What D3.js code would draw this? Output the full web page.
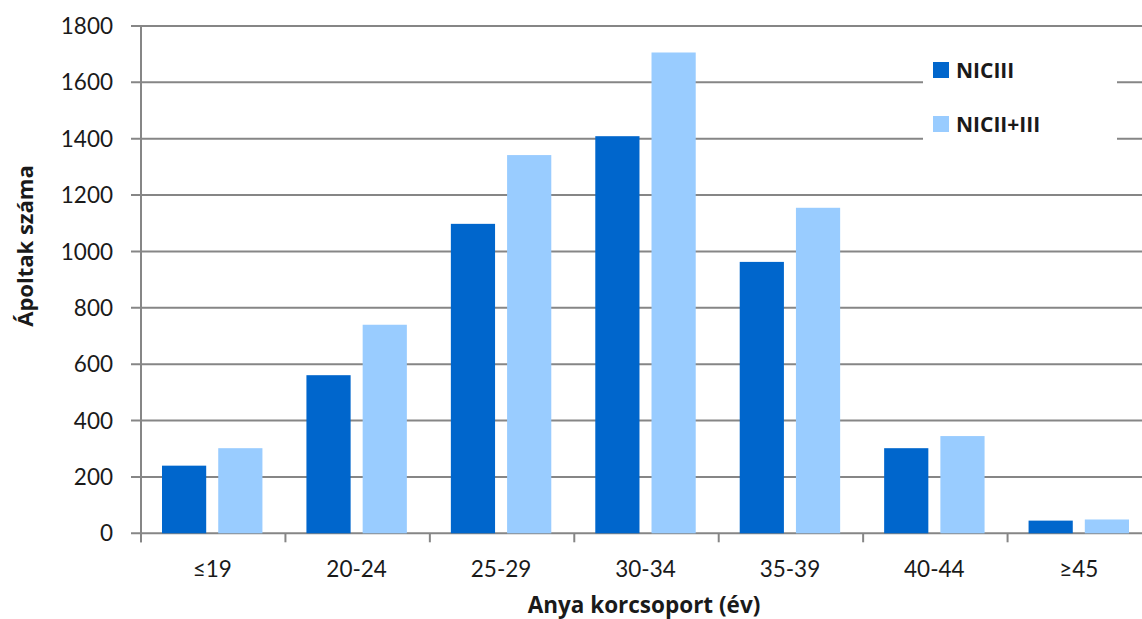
<!DOCTYPE html>
<html><head><meta charset="utf-8">
<script src="https://cdn.jsdelivr.net/npm/d3@7"></script>
<style>body{margin:0;background:#fff;} svg{display:block;font-family:Lato,"Open Sans",sans-serif;} .b{font-family:"Open Sans",Lato,sans-serif;font-weight:bold;}</style>
</head><body>
<svg id="c" width="1142" height="619"></svg>
<script>
const categories = ["≤19","20-24","25-29","30-34","35-39","40-44","≥45"];
const seriesNames = ["NICIII","NICII+III"];
const nicIII = [240, 561, 1098, 1409, 963, 302, 45];
const nicIIandIII = [302, 740, 1342, 1706, 1155, 345, 49];
const yTicks = [0,200,400,600,800,1000,1200,1400,1600,1800];
const colors = ["#0066CC","#99CCFF"];

(function(){
const svg = d3.select("#c");
const pL = 140, pR = 1151, pT = 26, pB = 533.3;
const x = d3.scaleBand().domain(categories).range([pL, pR]);
const xs = d3.scaleBand().domain(seriesNames).range([22, x.bandwidth()-22]).paddingInner(0.214);
const y = d3.scaleLinear().domain([0,1800]).range([pB, pT]);
const grid = "#868686";
const txt = "#1a1a1a";

svg.append("g").selectAll("line").data(yTicks).join("line")
  .attr("x1", pL-9).attr("x2", pR).attr("y1", d=>y(d)).attr("y2", d=>y(d))
  .attr("stroke", grid).attr("stroke-width", 2);

svg.append("line").attr("x1", pL+1).attr("x2", pL+1).attr("y1", pT).attr("y2", pB+9)
  .attr("stroke", grid).attr("stroke-width", 2);

svg.append("g").selectAll("text").data(yTicks).join("text")
  .attr("x", pL-27).attr("y", d=>y(d)).attr("dy","0.36em").attr("text-anchor","end")
  .attr("font-size", 22.5).attr("fill", txt).text(d=>d);

const bounds = categories.map(c=>x(c)).concat([pR]);
svg.append("g").selectAll("line").data(bounds).join("line")
  .attr("x1", d=>d+1).attr("x2", d=>d+1).attr("y1", pB).attr("y2", pB+9)
  .attr("stroke", grid).attr("stroke-width", 2);

const data = categories.map((c,i)=>({c, vals:[nicIII[i], nicIIandIII[i]]}));
const g = svg.append("g").selectAll("g").data(data).join("g").attr("transform", d=>`translate(${x(d.c)},0)`);
g.selectAll("rect").data(d=>d.vals.map((v,j)=>({v, s:seriesNames[j], j}))).join("rect")
  .attr("x", d=>xs(d.s)).attr("width", xs.bandwidth())
  .attr("y", d=>y(d.v)).attr("height", d=>pB - y(d.v))
  .attr("fill", d=>colors[d.j]);

svg.append("g").selectAll("text").data(categories).join("text")
  .attr("x", d=>x(d)+x.bandwidth()/2).attr("y", 577).attr("text-anchor","middle")
  .attr("font-size", 22.5).attr("fill", txt).text(d=>d);

svg.append("text").attr("class","b").attr("x", 644).attr("y", 613).attr("text-anchor","middle")
  .attr("font-size", 22.5).attr("fill", txt).text("Anya korcsoport (év)");
svg.append("text").attr("class","b").attr("transform","translate(33,246) rotate(-90)").attr("text-anchor","middle")
  .attr("font-size", 22).attr("fill", txt).text("Ápoltak száma");

const lg = svg.append("g");
lg.append("rect").attr("x", 923).attr("y", 45).attr("width", 194).attr("height", 100).attr("fill","#fff");
seriesNames.forEach((s,i)=>{
  const yy = 62 + i*54;
  lg.append("rect").attr("x", 933).attr("y", yy).attr("width", 16).attr("height", 16).attr("fill", colors[i]);
  lg.append("text").attr("class","b").attr("x", 956).attr("y", yy+15.5).attr("font-size", 21).attr("fill", txt).text(s);
});
})();
</script>
</body></html>
